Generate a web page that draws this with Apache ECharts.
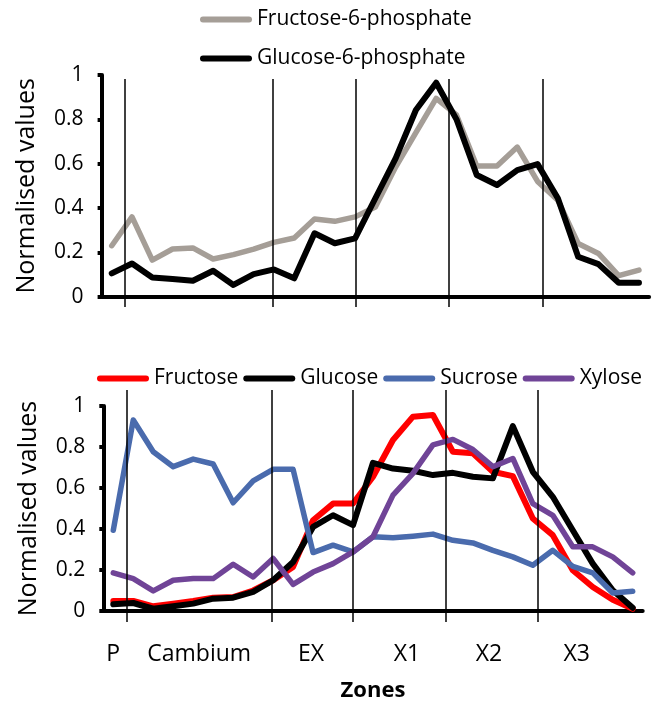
<!DOCTYPE html>
<html>
<head>
<meta charset="utf-8">
<script src="https://cdn.jsdelivr.net/npm/echarts@6/dist/echarts.min.js"></script>
<style>
html,body{margin:0;padding:0;background:#fff;}
#chart{width:670px;height:704px;}
</style>
</head>
<body>
<div id="chart"></div>
<script>
// normalised profiles, one value per section (27 sections, P -> X3)
var f6p     = [0.23, 0.36, 0.165, 0.215, 0.22, 0.17, 0.19, 0.215, 0.245, 0.265, 0.35, 0.34, 0.36, 0.405, 0.585, 0.74, 0.895, 0.82, 0.59, 0.59, 0.675, 0.52, 0.435, 0.24, 0.195, 0.095, 0.12];
var g6p     = [0.105, 0.15, 0.087, 0.08, 0.072, 0.117, 0.053, 0.102, 0.123, 0.083, 0.286, 0.241, 0.263, 0.444, 0.624, 0.842, 0.965, 0.80, 0.549, 0.504, 0.571, 0.598, 0.444, 0.18, 0.147, 0.063, 0.063];
var fructose = [0.049, 0.049, 0.023, 0.036, 0.049, 0.065, 0.068, 0.10, 0.15, 0.215, 0.443, 0.524, 0.524, 0.655, 0.834, 0.948, 0.956, 0.777, 0.769, 0.679, 0.658, 0.451, 0.37, 0.199, 0.117, 0.055, 0.011];
var glucose  = [0.033, 0.039, 0.011, 0.023, 0.036, 0.06, 0.065, 0.093, 0.15, 0.239, 0.41, 0.467, 0.419, 0.723, 0.695, 0.684, 0.663, 0.674, 0.655, 0.647, 0.902, 0.679, 0.557, 0.394, 0.231, 0.101, 0.016];
var sucrose  = [0.394, 0.932, 0.777, 0.704, 0.741, 0.717, 0.528, 0.635, 0.691, 0.691, 0.285, 0.321, 0.288, 0.362, 0.357, 0.365, 0.375, 0.345, 0.332, 0.296, 0.264, 0.223, 0.296, 0.218, 0.186, 0.088, 0.096];
var xylose   = [0.186, 0.158, 0.098, 0.15, 0.158, 0.158, 0.228, 0.166, 0.256, 0.13, 0.19, 0.231, 0.288, 0.362, 0.565, 0.671, 0.81, 0.837, 0.788, 0.704, 0.744, 0.524, 0.467, 0.313, 0.313, 0.264, 0.186];

// zone boundaries (in section units) and where each zone name sits
var zoneBounds = [0.655, 7.94, 12.01, 16.63, 21.27];
var zoneNames  = ['P', 'Cambium', 'EX', 'X1', 'X2', 'X3'];
var zonePos    = [0, 4.3, 9.9, 14.7, 18.8, 23.2];

function pairs(arr){
    return arr.map(function(v, i){ return [i, v]; });
}

var FONT = 'Open Sans';
var myChart = echarts.init(document.getElementById('chart'), null, {renderer:'canvas'});

function valueY(idx, name){
    return {
        gridIndex: idx,
        type: 'value',
        min: 0, max: 1, interval: 0.2,
        name: name,
        nameLocation: 'middle',
        nameGap: 62,
        nameTextStyle: {fontSize: 25, color:'#000', fontFamily: FONT},
        axisLine: {show: true, onZero: false, lineStyle: {color:'#000', width: 4}},
        axisTick: {show: true, inside: false, length: 4, lineStyle: {color:'#000', width: 4}},
        axisLabel: {margin: 18, fontSize: 21, color:'#000', fontFamily: FONT},
        splitLine: {show: false}
    };
}
function hiddenX(idx){
    return {gridIndex: idx, type:'value', min:-0.5, max:26.5, show:false};
}
function hiddenY(idx){
    return {gridIndex: idx, type:'value', min:0, max:1, show:false};
}
function lineSeries(name, data, color, width, ax){
    return {
        name: name, type:'line', data: pairs(data),
        xAxisIndex: ax, yAxisIndex: ax,
        symbol:'none', showSymbol:false,
        lineStyle: {color: color, width: width, join:'round', cap:'round'},
        itemStyle: {color: color},
        emphasis: {disabled: true},
        z: 3
    };
}
function dividers(ax){
    return {
        type:'line', data: [], xAxisIndex: ax, yAxisIndex: ax, z: 1,
        markLine: {
            silent: true, symbol: ['none','none'], animation:false,
            label: {show:false},
            lineStyle: {color:'#000', width:1.5, type:'solid'},
            data: zoneBounds.map(function(b){ return {xAxis: b}; })
        }
    };
}

var legendIcon = 'path://M3,0 L49,0 A3,3 0 0 1 49,6 L3,6 A3,3 0 0 1 3,0 Z';

var option = {
    animation: false,
    textStyle: {fontFamily: FONT},
    legend: [{
        data: ['Fructose-6-phosphate', 'Glucose-6-phosphate'],
        orient: 'vertical', left: 195, top: 4,
        itemWidth: 52, itemHeight: 6, itemGap: 18, itemTextGap: 3,
        icon: legendIcon,
        textStyle: {fontSize: 21, color:'#000', fontFamily: FONT}
    },{
        data: ['Fructose', 'Glucose', 'Sucrose', 'Xylose'],
        orient: 'horizontal', left: 92, top: 363,
        itemWidth: 52, itemHeight: 6, itemGap: 5, itemTextGap: 3,
        icon: legendIcon,
        textStyle: {fontSize: 21, color:'#000', fontFamily: FONT}
    }],
    grid: [
        {left: 101.6, right: 20.9, top: 75, bottom: 407.3},
        {left: 103.3, right: 27.3, top: 406, bottom: 93},
        {left: 101.6, right: 20.9, top: 79, bottom: 397},
        {left: 103.3, right: 27.3, top: 390, bottom: 82}
    ],
    xAxis: [{
        gridIndex: 0, type:'value', min:-0.5, max:26.5,
        axisLine: {show:true, onZero:false, lineStyle:{color:'#000', width:4}},
        axisTick: {show:false}, axisLabel: {show:false}, splitLine: {show:false}
    },{
        gridIndex: 1, type:'value', min:-0.5, max:26.5,
        name: 'Zones', nameLocation:'middle', nameGap: 69,
        nameTextStyle: {fontSize: 22, fontWeight:'bold', color:'#000', fontFamily: FONT},
        axisLine: {show:true, onZero:false, lineStyle:{color:'#000', width:4}},
        axisTick: {show:false},
        axisLabel: {
            margin: 32, fontSize: 23, color:'#000', fontFamily: FONT,
            customValues: zonePos,
            formatter: function(v){
                var i = zonePos.indexOf(v);
                return i >= 0 ? zoneNames[i] : '';
            }
        },
        splitLine: {show:false}
    }, hiddenX(2), hiddenX(3)],
    yAxis: [valueY(0, 'Normalised values'), valueY(1, 'Normalised values'), hiddenY(2), hiddenY(3)],
    series: [
        dividers(2),
        dividers(3),
        lineSeries('Fructose-6-phosphate', f6p, '#A59E97', 5.5, 0),
        lineSeries('Glucose-6-phosphate', g6p, '#000000', 6, 0),
        lineSeries('Fructose', fructose, '#FF0000', 6, 1),
        lineSeries('Glucose', glucose, '#000000', 6, 1),
        lineSeries('Sucrose', sucrose, '#4A6BAD', 5.5, 1),
        lineSeries('Xylose', xylose, '#704497', 5.5, 1)
    ]
};
myChart.setOption(option);
</script>
</body>
</html>
